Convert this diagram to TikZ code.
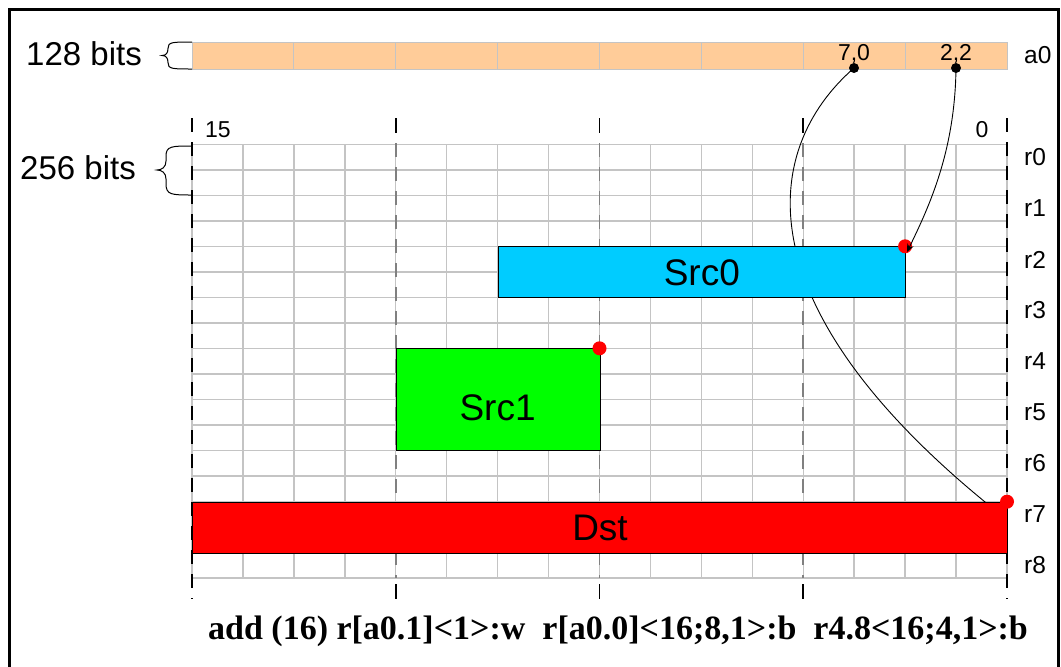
\documentclass[tikz,border=0pt]{standalone}
\usepackage{fontspec}
\setmainfont{Liberation Sans}
\newfontfamily\serifbold{Liberation Serif}
\usetikzlibrary{arrows.meta}
\definecolor{gridc}{HTML}{C4C4C4}
\definecolor{peach}{HTML}{FFCC99}
\definecolor{cyanc}{HTML}{00CCFF}
\definecolor{greenc}{HTML}{00FF00}
\definecolor{redc}{HTML}{FF0000}
\definecolor{dashgray}{HTML}{808080}
\begin{document}
\begin{tikzpicture}[x=1pt,y=-1pt,
  gridline/.style={draw=gridc,line width=1.4pt},
  regbox/.style={draw=black,line width=1pt,inner sep=0pt,anchor=north west},
  boxtext/.style={font=\fontsize{37}{40}\selectfont,inner sep=0pt},
  smalltext/.style={font=\fontsize{23}{26}\selectfont,inner sep=0pt},
  regtext/.style={font=\fontsize{24.5}{27}\selectfont,inner sep=0pt},
  bigtext/.style={font=\fontsize{33}{36}\selectfont,inner sep=0pt},
  reddot/.style={circle,fill=redc,inner sep=0pt,minimum size=14pt},
  blackdot/.style={circle,fill=black,inner sep=0pt,minimum size=10pt},
  dashline/.style={line width=1.6pt,dash pattern=on 14pt off 10pt},
  link/.style={draw=black,line width=0.9pt}]
\useasboundingbox (0,0) rectangle (1061,667);
% outer frame
\draw[line width=3pt] (9.5,667) -- (9.5,9.5) -- (1058,9.5) -- (1058,667);
% a0 bar
\node[regbox,draw=gridc,line width=1.2pt,fill=peach,minimum width=815pt,minimum height=27pt] (a0bar) at (192,42) {};
\foreach \k in {1,...,7} \draw[draw=gridc,line width=1.2pt] ({192+\k*101.875},42) -- ({192+\k*101.875},69);
% grid
\foreach \i in {0,...,16} \draw[gridline] ({192+\i*50.9375},144.3) -- ({192+\i*50.9375},577.8);
\foreach \j in {0,...,17} \draw[gridline] (192,{144.3+\j*25.5}) -- (1007,{144.3+\j*25.5});
% dashed lines
\draw[dashline,dash phase=0pt] (192,118) -- (192,599);
\draw[dashline,dash phase=0pt] (1007,118) -- (1007,599);
\foreach \x in {395.75,599.5,803.25}{
  \draw[line width=1.6pt] (\x,118) -- (\x,133);
  \draw[dashline,draw=dashgray,dash phase=0pt] (\x,143) -- (\x,578);
  \draw[line width=1.6pt] (\x,584) -- (\x,599);
}
% braces
\draw[line width=1pt] (192,42) .. controls (172,42) and (168,42) .. (168,48.5) .. controls (168,53) and (166,55.5) .. (162,55.5)
  .. controls (166,55.5) and (168,58) .. (168,62.5) .. controls (168,69) and (172,69) .. (192,69);
\draw[line width=1pt] (192,146) .. controls (172,146) and (166,146) .. (166,156) -- (166,161) .. controls (166,167) and (162,170) .. (157,170)
  .. controls (162,170) and (166,173) .. (166,179) -- (166,184) .. controls (166,195) and (172,195) .. (192,195);
% labels
\node[bigtext,anchor=east] (l128) at (142,54) {128 bits};
\node[bigtext,anchor=east] (l256) at (136,168) {256 bits};
\node[regtext,anchor=west] (la0) at (1024,55) {a0};
\foreach \r in {0,...,8} \node[regtext,anchor=west] (lr\r) at (1024,{157.5+\r*51}) {r\r};
\node[smalltext,anchor=west] (l15) at (205,129.5) {15};
\node[smalltext] (l0) at (982,130) {0};
\node[smalltext] (t70) at (854,54) {7,0};
\node[smalltext] (t22) at (956,54) {2,2};
% dots on a0
\node[blackdot] (b70) at (854,68) {};
\node[blackdot] (b22) at (956,68) {};
\coordinate (dstin) at (1005,518);
\coordinate (src0in) at (907,252);
% link to Dst (drawn under the Dst box)
\draw[link] (b70.center) .. controls (760,150) and (740,310) .. (dstin);
% boxes
\node[regbox,fill=cyanc,minimum width=407.5pt,minimum height=51pt] (src0) at (497.6,246.3) {};
\node[boxtext] (src0t) at (src0.center) {Src0};
\node[regbox,fill=greenc,minimum width=203.75pt,minimum height=102pt] (src1) at (395.75,348.3) {};
\node[boxtext] (src1t) at (497.6,408) {Src1};
\node[regbox,fill=redc,minimum width=815pt,minimum height=51pt] (dst) at (192,501.7) {};
\node[boxtext] (dstt) at (dst.center) {Dst};
% red dots
\node[reddot] (r0dot) at (905.1,246.3) {};
\node[reddot] (r1dot) at (599.5,348.3) {};
\node[reddot] (r2dot) at (1007,501.7) {};
% link to Src0
\draw[link,-{Stealth[length=8pt,width=7pt]}] (b22.center) .. controls (955,150) and (930,205) .. (src0in);
% instruction
\node[font=\serifbold\bfseries\fontsize{34}{38}\selectfont,inner sep=0pt,anchor=base] (instr) at (618,639)
  {add (16) r[a0.1]<1>:w\ \ r[a0.0]<16;8,1>:b\ \ r4.8<16;4,1>:b};
\end{tikzpicture}
\end{document}
